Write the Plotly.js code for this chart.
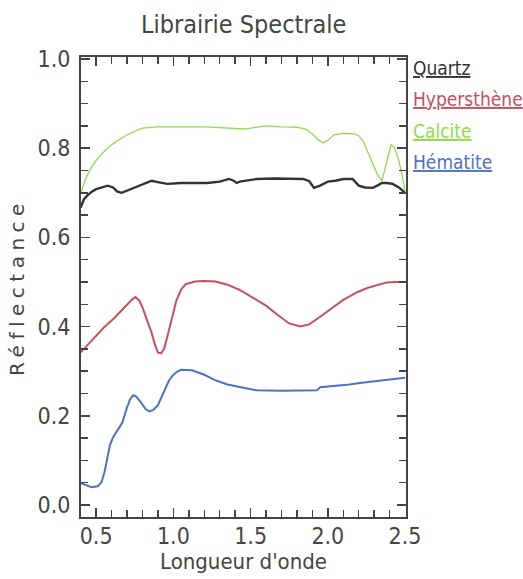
<!DOCTYPE html>
<html>
<head>
<meta charset="utf-8">
<script src="https://cdn.plot.ly/plotly-3.0.1.min.js"></script>
<style>
html,body{margin:0;padding:0;background:#fff;}
#chart{width:523px;height:579px;}
.ytitle{letter-spacing:5.5px;}
</style>
</head>
<body>
<div id="chart"></div>
<script>
// ---- data ----
const seriesNames = ["Quartz", "Hypersthène", "Calcite", "Hématite"];
const seriesColors = ["#333333", "#c84f5e", "#8fdc48", "#4b72c6"];

const quartzX = [0.40,0.42,0.44,0.47,0.50,0.54,0.575,0.61,0.635,0.665,0.70,0.75,0.80,0.86,0.90,0.96,1.05,1.15,1.22,1.30,1.36,1.39,1.41,1.43,1.48,1.54,1.65,1.75,1.84,1.88,1.91,1.95,2.00,2.05,2.10,2.16,2.20,2.24,2.29,2.32,2.35,2.38,2.42,2.46,2.50];
const quartzY = [0.667,0.685,0.693,0.702,0.708,0.713,0.716,0.712,0.703,0.700,0.705,0.712,0.720,0.727,0.724,0.720,0.722,0.722,0.722,0.725,0.731,0.727,0.722,0.725,0.728,0.731,0.732,0.732,0.731,0.726,0.711,0.716,0.725,0.727,0.731,0.731,0.716,0.712,0.711,0.716,0.722,0.722,0.720,0.712,0.700];

const calciteX = [0.40,0.43,0.46,0.49,0.53,0.58,0.63,0.69,0.75,0.80,0.90,1.00,1.10,1.20,1.30,1.40,1.46,1.52,1.60,1.70,1.80,1.86,1.90,1.94,1.97,2.00,2.04,2.10,2.17,2.20,2.23,2.26,2.29,2.32,2.35,2.38,2.41,2.43,2.46,2.48,2.50];
const calciteY = [0.698,0.730,0.752,0.768,0.785,0.802,0.815,0.828,0.838,0.845,0.848,0.848,0.849,0.848,0.846,0.844,0.843,0.846,0.850,0.848,0.847,0.842,0.832,0.818,0.812,0.818,0.830,0.833,0.832,0.828,0.815,0.790,0.765,0.742,0.727,0.770,0.808,0.802,0.772,0.740,0.703];

const hyperX = [0.40,0.45,0.49,0.55,0.62,0.68,0.73,0.755,0.78,0.80,0.83,0.86,0.88,0.90,0.92,0.94,0.96,0.99,1.02,1.05,1.08,1.14,1.20,1.27,1.35,1.43,1.50,1.60,1.68,1.75,1.82,1.88,1.95,2.03,2.10,2.19,2.26,2.33,2.38,2.45,2.50];
const hyperY = [0.342,0.360,0.376,0.398,0.420,0.442,0.460,0.466,0.458,0.443,0.415,0.385,0.360,0.342,0.340,0.350,0.376,0.420,0.459,0.483,0.495,0.501,0.502,0.501,0.494,0.482,0.468,0.447,0.425,0.407,0.400,0.405,0.422,0.443,0.460,0.477,0.487,0.494,0.499,0.500,0.500];

const hemX = [0.40,0.44,0.47,0.51,0.535,0.555,0.575,0.59,0.61,0.64,0.67,0.70,0.72,0.74,0.76,0.79,0.82,0.845,0.87,0.90,0.94,0.97,0.995,1.02,1.05,1.12,1.20,1.27,1.35,1.44,1.54,1.70,1.85,1.93,1.95,2.05,2.14,2.22,2.29,2.40,2.48,2.50];
const hemY = [0.049,0.044,0.040,0.042,0.051,0.075,0.107,0.135,0.152,0.168,0.185,0.219,0.237,0.246,0.243,0.230,0.215,0.210,0.213,0.224,0.257,0.278,0.290,0.298,0.303,0.302,0.292,0.280,0.270,0.264,0.257,0.256,0.256,0.257,0.264,0.267,0.270,0.274,0.277,0.281,0.284,0.285];

const xTickVals = [0.5, 1.0, 1.5, 2.0, 2.5];
const xTickText = ["0.5", "1.0", "1.5", "2.0", "2.5"];
const yTickVals = [0.0, 0.2, 0.4, 0.6, 0.8, 1.0];
const yTickText = ["0.0", "0.2", "0.4", "0.6", "0.8", "1.0"];

const titleText = "Librairie Spectrale";
const xTitleText = "Longueur d'onde";
const yTitleText = "Réflectance";

// ---- chart ----
const xs = [quartzX, hyperX, calciteX, hemX];
const ys = [quartzY, hyperY, calciteY, hemY];
const widths = [2.4, 2.0, 1.3, 2.0];

const traces = seriesNames.map((n, i) => ({
  type: "scatter", mode: "lines", name: n,
  x: xs[i], y: ys[i],
  line: {color: seriesColors[i], width: widths[i]},
  showlegend: false, hoverinfo: "skip"
}));

const narrow = "'DejaVu Sans Condensed', 'Liberation Sans Narrow', sans-serif";
const textGray = "#454545";

const annotations = seriesNames.map((n, i) => ({
  xref: "paper", yref: "paper",
  x: 1.015, y: 0.976 - i * 0.068,
  xanchor: "left", yanchor: "middle",
  text: n, showarrow: false,
  font: {family: narrow, size: 19, color: seriesColors[i], lineposition: "under"}
}));

const axisCommon = {
  showgrid: false, zeroline: false,
  showline: true, linecolor: "#444", linewidth: 2,
  mirror: "ticks", ticks: "inside", ticklen: 9, tickwidth: 1.5, tickcolor: "#444",
  tickfont: {family: narrow, size: 23, color: textGray},
  tickmode: "array"
};

const layout = {
  width: 523, height: 579,
  margin: {l: 81, r: 117, t: 57, b: 62},
  paper_bgcolor: "#fff", plot_bgcolor: "#fff",
  title: {
    text: titleText, x: 0.466, xanchor: "center", xref: "container",
    y: 0.958, yanchor: "middle", yref: "container",
    font: {family: narrow, size: 25, color: textGray}
  },
  xaxis: Object.assign({}, axisCommon, {
    range: [0.402, 2.506],
    tickvals: xTickVals, ticktext: xTickText,
    ticklabelstandoff: -3,
    minor: {dtick: 0.1, tick0: 0, ticks: "inside", ticklen: 7, tickwidth: 1.5, tickcolor: "#444", showgrid: false},
    title: {text: xTitleText, standoff: 0, font: {family: narrow, size: 22, color: textGray}}
  }),
  yaxis: Object.assign({}, axisCommon, {
    range: [-0.027, 1.0045],
    tickvals: yTickVals, ticktext: yTickText,
    ticklabelstandoff: 4,
    minor: {dtick: 0.05, tick0: 0, ticks: "inside", ticklen: 7, tickwidth: 1.5, tickcolor: "#444", showgrid: false},
    title: {text: yTitleText, standoff: 7, font: {family: "'DejaVu Sans', sans-serif", size: 20, color: textGray}}
  }),
  annotations: annotations,
  showlegend: false
};

Plotly.newPlot("chart", traces, layout, {displayModeBar: false, staticPlot: true});
</script>
</body>
</html>
